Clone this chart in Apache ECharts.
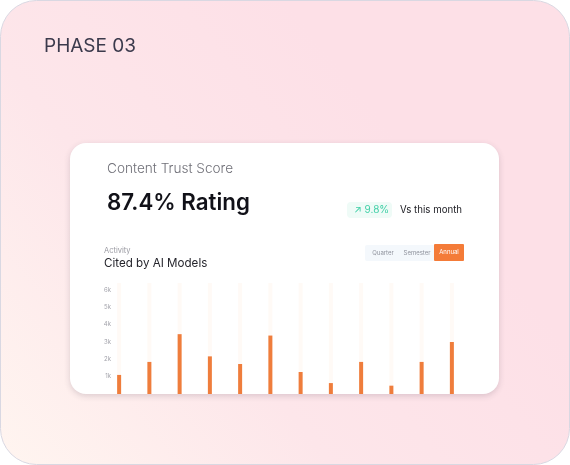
<!DOCTYPE html>
<html>
<head>
<meta charset="utf-8">
<script src="https://cdn.jsdelivr.net/npm/echarts@6/dist/echarts.min.js"></script>
<style>
  html, body { margin: 0; padding: 0; background: #ffffff; }
  #chart { width: 570px; height: 465px; }
</style>
</head>
<body>
<div id="chart"></div>
<script>
// data
const months = ['Jan', 'Feb', 'Mar', 'Apr', 'May', 'Jun', 'Jul', 'Aug', 'Sep', 'Oct', 'Nov', 'Dec'];
const citations = [1100, 1850, 3450, 2170, 1730, 3370, 1270, 630, 1850, 480, 1850, 3000];
const trackHeight = 6400;
const periods = ['Quarter', 'Semester', 'Annual'];

const FONT = 'Inter, "Noto Sans", sans-serif';
const ORANGE = '#EF7D3C';

let chart = echarts.init(document.getElementById('chart'), null, { renderer: 'canvas' });

chart.setOption({
    animation: false,
    textStyle: { fontFamily: FONT },
    graphic: [
        // outer panel
        {
            type: 'rect', z: -10,
            shape: { x: 0.5, y: 0.5, width: 569, height: 464, r: 36 },
            style: {
                fill: new echarts.graphic.LinearGradient(0, 1, 0.7, 0.3, [
                    { offset: 0, color: '#fff5f0' },
                    { offset: 0.5, color: '#fde6ea' },
                    { offset: 1, color: '#fde0e7' }
                ]),
                stroke: '#d9d8e2', lineWidth: 1
            }
        },
        {
            type: 'text', z: 5, left: 44, top: 37,
            style: { text: 'PHASE 03', fill: '#3b3a4c', font: '400 19px ' + FONT }
        },
        // white card
        {
            type: 'rect', z: -5,
            shape: { x: 70, y: 143, width: 429, height: 251, r: 16 },
            style: {
                fill: '#ffffff',
                shadowBlur: 6, shadowOffsetY: 2, shadowColor: 'rgba(60,40,60,0.18)'
            }
        },
        {
            type: 'text', z: 5, left: 107, top: 162,
            style: { text: 'Content Trust Score', fill: '#707078', font: '300 13.6px ' + FONT }
        },
        {
            type: 'text', z: 5, left: 107, top: 192,
            style: { text: '87.4% Rating', fill: '#111118', font: '600 22.3px ' + FONT }
        },
        // change badge
        {
            type: 'rect', z: 4,
            shape: { x: 347, y: 202, width: 45, height: 16, r: 4 },
            style: { fill: '#effbf7' }
        },
        {
            type: 'text', z: 5, left: 354, top: 205,
            style: { text: '↗ 9.8%', fill: '#3fcfa6', font: '400 10px ' + FONT }
        },
        {
            type: 'text', z: 5, left: 400, top: 205,
            style: { text: 'Vs this month', fill: '#222228', font: '400 9.7px ' + FONT }
        },
        {
            type: 'text', z: 5, left: 104, top: 247,
            style: { text: 'Activity', fill: '#9a9aa2', font: '400 7.5px ' + FONT }
        },
        {
            type: 'text', z: 5, left: 104, top: 258,
            style: { text: 'Cited by AI Models', fill: '#25252c', font: '400 11.6px ' + FONT }
        },
        // period toggle
        {
            type: 'rect', z: 4,
            shape: { x: 365, y: 245, width: 70, height: 16, r: 2 },
            style: { fill: '#f4f8fc' }
        },
        {
            type: 'rect', z: 4,
            shape: { x: 434, y: 244, width: 30, height: 17, r: 1 },
            style: { fill: '#f47b38' }
        },
        {
            type: 'text', z: 5, x: 383, y: 253,
            style: { text: periods[0], fill: '#8f929c', font: '400 6px ' + FONT, align: 'center', verticalAlign: 'middle' }
        },
        {
            type: 'text', z: 5, x: 417, y: 253,
            style: { text: periods[1], fill: '#8f929c', font: '400 6px ' + FONT, align: 'center', verticalAlign: 'middle' }
        },
        {
            type: 'text', z: 5, x: 449, y: 252.5,
            style: { text: periods[2], fill: '#ffffff', font: '400 6px ' + FONT, align: 'center', verticalAlign: 'middle' }
        }
    ],
    grid: { left: 104, width: 363, top: 283, bottom: 71 },
    xAxis: {
        type: 'category',
        data: months,
        axisLine: { show: false },
        axisTick: { show: false },
        axisLabel: { show: false }
    },
    yAxis: {
        type: 'value',
        min: 0,
        max: 6400,
        interval: 1000,
        splitLine: { show: false },
        axisLine: { show: false },
        axisTick: { show: false },
        axisLabel: {
            margin: -7,
            color: '#a3a3ab',
            fontSize: 6,
            formatter: function (v) {
                return (v > 0 && v % 1000 === 0) ? (v / 1000) + 'k' : '';
            }
        }
    },
    series: [{
        name: 'track',
        type: 'bar',
        barWidth: 4,
        barGap: '-100%',
        silent: true,
        itemStyle: { color: '#fffaf6' },
        data: months.map(function () { return trackHeight; })
    }, {
        name: 'Cited',
        type: 'bar',
        barWidth: 4,
        barGap: '-100%',
        itemStyle: { color: ORANGE },
        data: citations
    }]
});
</script>
</body>
</html>
